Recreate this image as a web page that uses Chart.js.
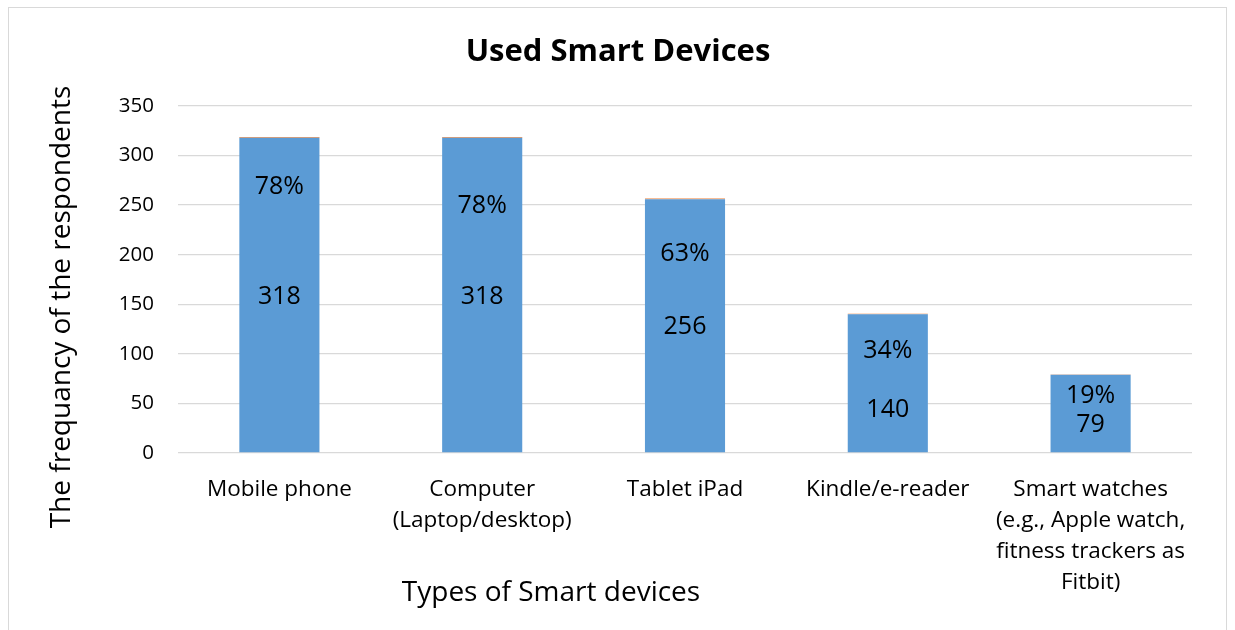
<!DOCTYPE html>
<html>
<head>
<meta charset="utf-8">
<script src="https://cdn.jsdelivr.net/npm/chart.js@4.4.1/dist/chart.umd.min.js"></script>
<style>
  html, body { margin: 0; padding: 0; background: #ffffff; }
  #wrap { position: relative; width: 1235px; height: 630px; }
  #frame { position: absolute; left: 8px; top: 7px; width: 1219px; height: 640px; border: 1px solid #d9d9d9; box-sizing: border-box; }
  canvas { position: absolute; left: 0; top: 0; }
</style>
</head>
<body>
<div id="wrap">
  <div id="frame"></div>
  <canvas id="chart" width="1235" height="630"></canvas>
</div>
<script>
// Device categories (multi-line labels as shown under the axis)
const categories = [
  ['Mobile phone'],
  ['Computer', '(Laptop/desktop)'],
  ['Tablet iPad'],
  ['Kindle/e-reader'],
  ['Smart watches', '(e.g., Apple watch,', 'fitness trackers as', 'Fitbit)']
];
// Number of respondents using each device
const counts = [318, 318, 256, 140, 79];
// Share of respondents (stacked on top as a thin segment)
const shares = [0.78, 0.78, 0.63, 0.34, 0.19];
// Y axis ticks
const yTicks = [0, 50, 100, 150, 200, 250, 300, 350];

// Where each label sits along the value axis
const countLabelAt = [157, 157, 127, 43, 28];
const shareLabelAt = [268, 249, 201, 103, 58];

const FONT = '"Open Sans", sans-serif';

const labelPlugin = {
  id: 'barLabels',
  afterDatasetsDraw(chart) {
    const { ctx, scales: { x, y } } = chart;
    ctx.save();
    ctx.fillStyle = '#000000';
    ctx.font = '25px ' + FONT;
    ctx.textAlign = 'center';
    ctx.textBaseline = 'middle';
    counts.forEach((v, i) => {
      const cx = x.getPixelForValue(i);
      ctx.fillText(String(v), cx, y.getPixelForValue(countLabelAt[i]));
      ctx.fillText(Math.round(shares[i] * 100) + '%', cx, y.getPixelForValue(shareLabelAt[i]));
    });
    // chart title
    ctx.font = 'bold 31px ' + FONT;
    ctx.fillText('Used Smart Devices', 618, 52);
    // x-axis title
    ctx.font = '28px ' + FONT;
    ctx.fillText('Types of Smart devices', 551, 593);
    // y-axis title
    ctx.translate(62, 307);
    ctx.rotate(-Math.PI / 2);
    ctx.font = '28px ' + FONT;
    ctx.fillText('The frequancy of the respondents', 0, 0);
    ctx.restore();
  }
};

new Chart(document.getElementById('chart'), {
  type: 'bar',
  data: {
    labels: categories,
    datasets: [
      {
        label: 'Frequency',
        data: counts,
        backgroundColor: '#5B9BD5',
        borderWidth: 0,
        barPercentage: 0.79,
        categoryPercentage: 0.5
      },
      {
        label: 'Percentage',
        data: shares,
        backgroundColor: '#ED7D31',
        borderWidth: 0,
        barPercentage: 0.79,
        categoryPercentage: 0.5
      }
    ]
  },
  options: {
    responsive: false,
    animation: false,
    layout: { padding: { left: 0, right: 43, top: 106, bottom: 0 } },
    plugins: {
      legend: { display: false },
      tooltip: { enabled: false },
      title: { display: false }
    },
    scales: {
      x: {
        stacked: true,
        grid: { display: false, drawTicks: false },
        border: { display: false },
        ticks: {
          color: '#000000',
          font: { family: FONT, size: 22.5, lineHeight: '31px' },
          padding: 21,
          maxRotation: 0,
          autoSkip: false
        },
        afterFit(scale) { scale.height = 630 - 453; }
      },
      y: {
        stacked: true,
        min: 0,
        max: 350,
        afterBuildTicks(scale) { scale.ticks = yTicks.map(v => ({ value: v })); },
        grid: { color: '#d9d9d9', lineWidth: 1.3, drawTicks: false },
        border: { display: false },
        ticks: {
          color: '#000000',
          font: { family: FONT, size: 20.5 },
          padding: 24
        },
        afterFit(scale) { scale.width = 178; }
      }
    }
  },
  plugins: [labelPlugin]
});
</script>
</body>
</html>
